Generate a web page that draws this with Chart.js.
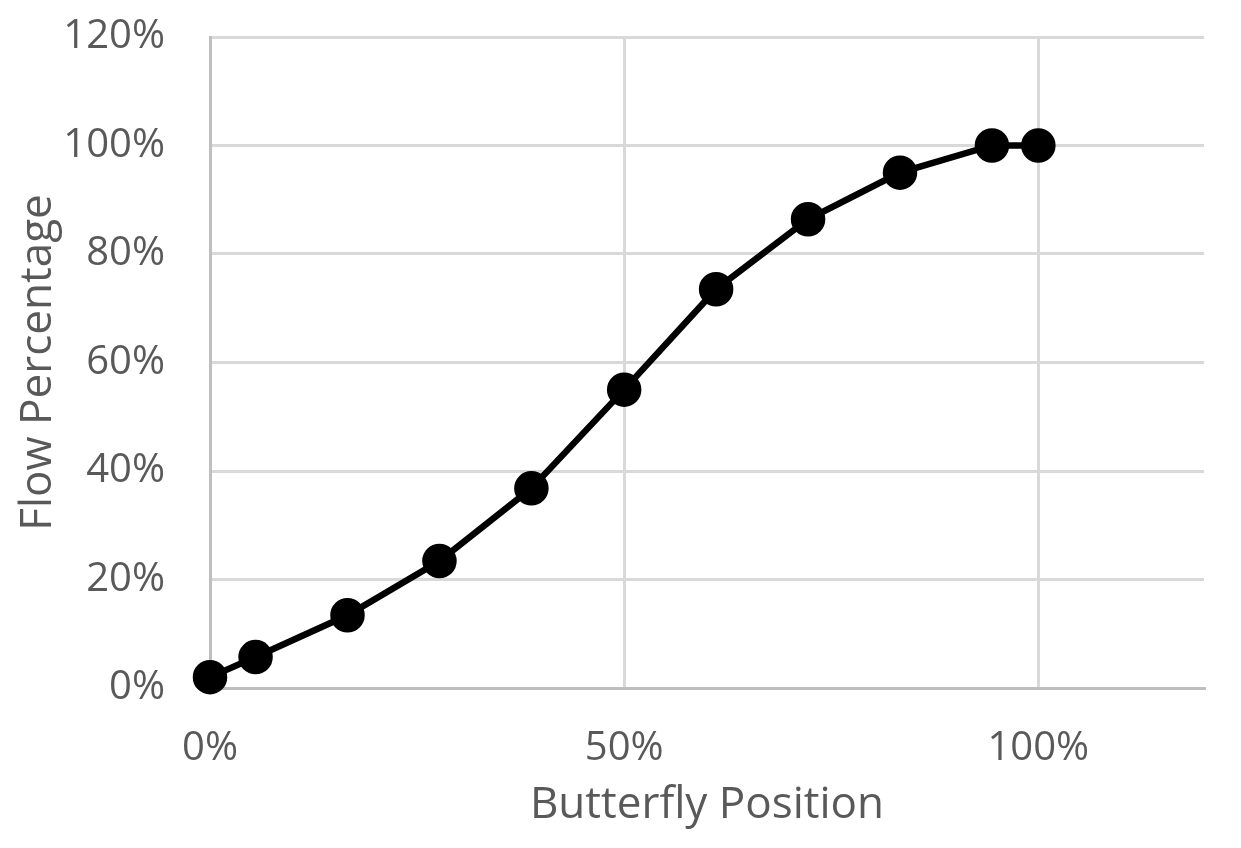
<!DOCTYPE html>
<html>
<head>
<meta charset="utf-8">
<style>
  html, body { margin: 0; padding: 0; background: #fff; }
  #wrap { width: 1241px; height: 848px; position: relative; }
</style>
<script src="https://cdn.jsdelivr.net/npm/chart.js@4.4.1/dist/chart.umd.min.js"></script>
</head>
<body>
<div id="wrap"><canvas id="chart"></canvas></div>
<script>
/* butterfly valve: flow vs position */

const positions = [0, 0.055, 0.166, 0.277, 0.388, 0.5, 0.611, 0.722, 0.833, 0.944, 1.0];
const flows = [0.02, 0.057, 0.134, 0.234, 0.368, 0.55, 0.735, 0.864, 0.95, 1.0, 1.0];
const xTicks = [0, 0.5, 1.0];
const yTicks = [0, 0.2, 0.4, 0.6, 0.8, 1.0, 1.2];

const textColor = "#595959";
const pct = (v) => Math.round(v * 100) + "%";
const keepTicks = (list) => (scale) => {
  scale.ticks = list.map((v) => ({ value: v }));
};

// tick marks are invisible; their length just pushes the labels away from the axis
const gridOpts = (gap) => ({
  color: "#d9d9d9",
  lineWidth: 3,
  drawTicks: true,
  tickLength: gap,
  tickColor: "rgba(0,0,0,0)",
});

new Chart(document.getElementById("chart"), {
  type: "scatter",
  data: {
    datasets: [{
      data: positions.map((x, i) => ({ x, y: flows[i] })),
      showLine: true,
      clip: false,
      borderColor: "#000",
      backgroundColor: "#000",
      borderWidth: 6.5,
      pointRadius: 14,
      pointHoverRadius: 14,
      tension: 0,
    }],
  },
  options: {
    responsive: true,
    maintainAspectRatio: false,
    animation: false,
    layout: { padding: { left: 0, top: 37, right: 37, bottom: 0 } },
    plugins: { legend: { display: false }, tooltip: { enabled: false } },
    scales: {
      x: {
        type: "linear",
        min: 0,
        max: 1.2,
        afterBuildTicks: keepTicks(xTicks),
        afterFit: (s) => { s.height = 160; },
        grid: gridOpts(37),
        border: { color: "#bfbfbf", width: 3 },
        ticks: {
          color: textColor,
          padding: 0,
          font: { family: "Open Sans", size: 40 },
          callback: pct,
        },
        title: {
          display: true,
          text: "Butterfly Position",
          color: textColor,
          font: { family: "Open Sans", size: 44 },
          padding: { top: 0, bottom: 16 },
        },
      },
      y: {
        type: "linear",
        min: 0,
        max: 1.2,
        afterBuildTicks: keepTicks(yTicks),
        afterFit: (s) => { s.width = 210; },
        grid: gridOpts(45),
        border: { color: "#bfbfbf", width: 3 },
        ticks: {
          color: textColor,
          padding: 0,
          font: { family: "Open Sans", size: 40 },
          callback: pct,
        },
        title: {
          display: true,
          text: "Flow Percentage",
          color: textColor,
          font: { family: "Open Sans", size: 44 },
          padding: { top: 12, bottom: 0 },
        },
      },
    },
  },
});
</script>
</body>
</html>
